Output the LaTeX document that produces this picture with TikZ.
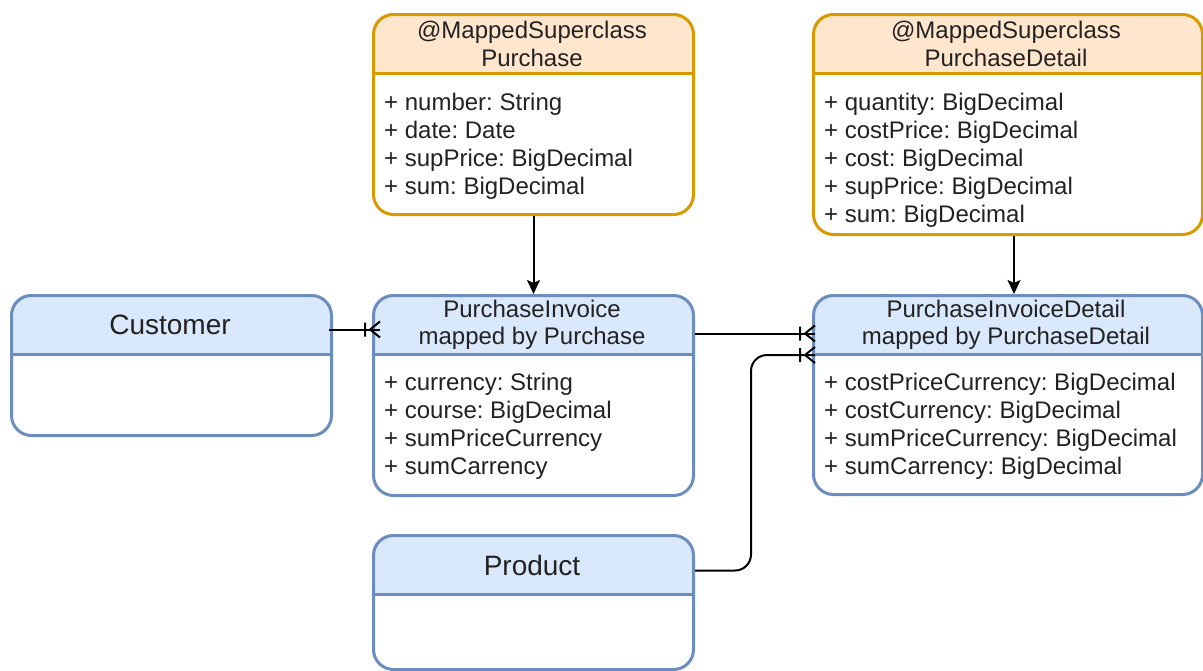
\documentclass[tikz,border=0pt]{standalone}
\usepackage{fontspec}
\setmainfont{Liberation Sans}
\usetikzlibrary{arrows.meta,calc}
\AtBeginDocument{\frenchspacing}

\definecolor{superfill}{HTML}{FFE6CC}
\definecolor{superline}{HTML}{D79B00}
\definecolor{entityfill}{HTML}{DAE8FC}
\definecolor{entityline}{HTML}{6C8EBF}
\definecolor{inktext}{HTML}{222222}

\tikzset{
  boxshape/.style={rectangle, rounded corners=20pt, line width=3pt, inner sep=0pt},
  headtext/.style={text=inktext, align=center, font=\fontsize{24}{27.5}\selectfont},
  titletext/.style={text=inktext, font=\fontsize{28}{32}\selectfont},
  attrtext/.style={text=inktext, anchor=base west, inner sep=0pt, font=\fontsize{24}{28}\selectfont},
  edge/.style={line width=2pt, draw=black},
  inherit/.style={edge, -{Stealth[length=14pt,width=13pt,inset=3pt]}},
}

% #1 name, #2 x, #3 y, #4 width, #5 height, #6 header height, #7 fill, #8 line colour
\newcommand\classbox[8]{%
  \fill[white, rounded corners=20pt] (#2,#3) rectangle ({#2+#4},{#3+#5});
  \begin{scope}
    \clip[rounded corners=20pt] (#2,#3) rectangle ({#2+#4},{#3+#5});
    \fill[#7] (#2,#3) rectangle ({#2+#4},{#3+#6});
  \end{scope}
  \draw[#8, line width=3pt] (#2,{#3+#6}) -- ({#2+#4},{#3+#6});
  \node[boxshape, draw=#8, minimum width=#4pt, minimum height=#5pt, anchor=north west] (#1) at (#2,#3) {};
}

% crow's foot with a bar, tips at the named coordinate, opening to the right
\newcommand\crowfoot[1]{%
  \draw[edge] ([xshift=-10pt]#1) -- ([yshift=8pt]#1)
              ([xshift=-10pt]#1) -- ([yshift=-8pt]#1)
              ([xshift=-15pt,yshift=7pt]#1) -- ([xshift=-15pt,yshift=-7pt]#1);
}

\begin{document}
\begin{tikzpicture}[x=1pt, y=-1pt]
\useasboundingbox (0,0) rectangle (1203,670);

% mapped superclasses
\classbox{purchase}{372}{13}{320}{200}{60}{superfill}{superline}
\node[headtext] (purchase-head) at (532,44) {@MappedSuperclass\\Purchase};
\node[attrtext] (purchase-a1) at (384,110) {+ number: String};
\node[attrtext] (purchase-a2) at (384,138) {+ date: Date};
\node[attrtext] (purchase-a3) at (384,166) {+ supPrice: BigDecimal};
\node[attrtext] (purchase-a4) at (384,194) {+ sum: BigDecimal};

\classbox{pdetail}{812}{13}{389}{220}{60}{superfill}{superline}
\node[headtext] (pdetail-head) at (1006,44) {@MappedSuperclass\\PurchaseDetail};
\node[attrtext] (pdetail-a1) at (824,110) {+ quantity: BigDecimal};
\node[attrtext] (pdetail-a2) at (824,138) {+ costPrice: BigDecimal};
\node[attrtext] (pdetail-a3) at (824,166) {+ cost: BigDecimal};
\node[attrtext] (pdetail-a4) at (824,194) {+ supPrice: BigDecimal};
\node[attrtext] (pdetail-a5) at (824,222) {+ sum: BigDecimal};

% entities
\classbox{customer}{10}{294}{320}{140}{60}{entityfill}{entityline}
\node[titletext] (customer-head) at (170,325) {Customer};

\classbox{pinv}{372}{294}{320}{200}{60}{entityfill}{entityline}
\node[headtext] (pinv-head) at (532,325) {PurchaseInvoice\\mapped by Purchase};
\node[attrtext] (pinv-a1) at (384,390) {+ currency: String};
\node[attrtext] (pinv-a2) at (384,418) {+ course: BigDecimal};
\node[attrtext] (pinv-a3) at (384,446) {+ sumPriceCurrency};
\node[attrtext] (pinv-a4) at (384,474) {+ sumCarrency};

\classbox{pidetail}{812}{294}{389}{199}{60}{entityfill}{entityline}
\node[headtext] (pidetail-head) at (1006,325) {PurchaseInvoiceDetail\\mapped by PurchaseDetail};
\node[attrtext] (pidetail-a1) at (824,390) {+ costPriceCurrency: BigDecimal};
\node[attrtext] (pidetail-a2) at (824,418) {+ costCurrency: BigDecimal};
\node[attrtext] (pidetail-a3) at (824,446) {+ sumPriceCurrency: BigDecimal};
\node[attrtext] (pidetail-a4) at (824,474) {+ sumCarrency: BigDecimal};

\classbox{product}{372}{534}{320}{134}{60}{entityfill}{entityline}
\node[titletext] (product-head) at (532,565) {Product};

% inheritance arrows
\draw[inherit] (purchase.south) -- (pinv.north);
\draw[inherit] ([xshift=6pt]pdetail.south) -- ([xshift=6pt]pidetail.north);

% one-to-many relations
\coordinate (cust-end) at ([xshift=8pt,yshift=66pt]pinv.west);
\draw[edge] ([xshift=-4pt,yshift=36pt]customer.east) -- (cust-end);
\crowfoot{cust-end}

\coordinate (pinv-end) at ([xshift=3pt,yshift=61.5pt]pidetail.west);
\draw[edge] ([yshift=62pt]pinv.east) -- (pinv-end);
\crowfoot{pinv-end}

\coordinate (prod-end) at ([xshift=3pt,yshift=40pt]pidetail.west);
\draw[edge, rounded corners=16pt] ([yshift=32pt]product.east) -| ([xshift=-64pt]prod-end) -- (prod-end);
\crowfoot{prod-end}

\end{tikzpicture}
\end{document}
